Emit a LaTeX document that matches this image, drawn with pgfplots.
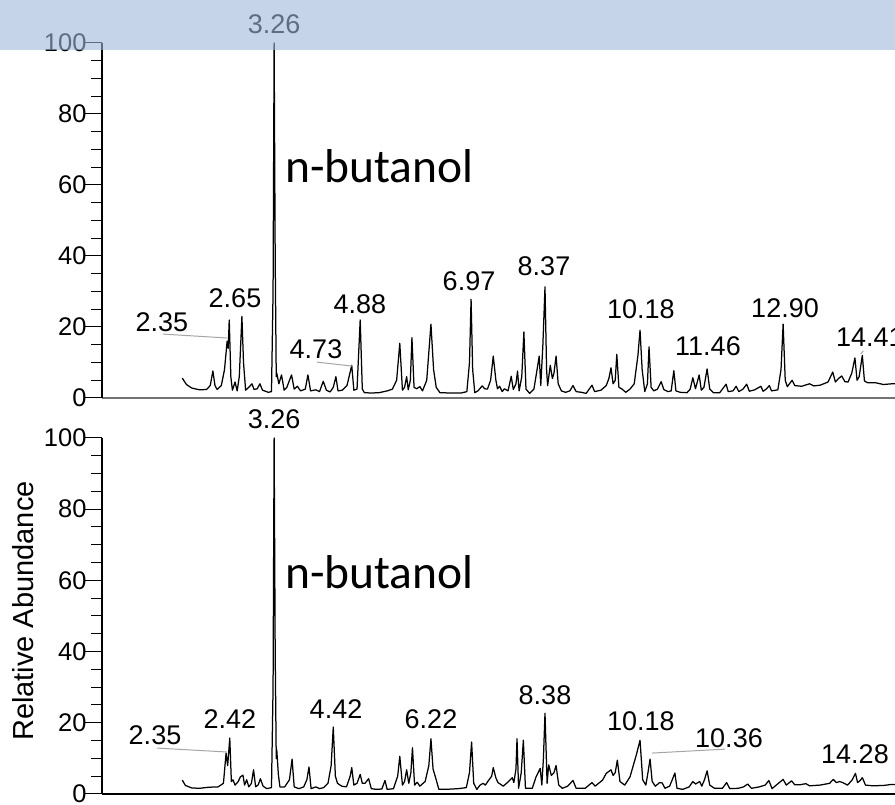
\documentclass[border=0pt]{standalone}
\usepackage{pgfplots}
\pgfplotsset{compat=1.18}
\usepackage{fontspec}
\setmainfont{Liberation Sans}
\newfontfamily\calibri{Carlito}

\definecolor{band}{RGB}{158,183,217}
\definecolor{leader}{RGB}{165,165,165}

\newcommand{\lbl}{\fontsize{27bp}{30bp}\selectfont}

\pgfplotsset{
  chrom/.style={
    x=52.8bp, y=3.55bp,
    xmin=0, xmax=15.2, ymin=0, ymax=100,
    axis x line=bottom, axis y line=left,
    axis line style={-, line width=1.1bp},
    xtick=\empty,
    ytick={0,20,...,100}, minor ytick={5,10,...,95},
    tick align=outside,
    major tick length=17bp, minor tick length=11bp,
    every tick/.style={black, line width=1bp},
    yticklabel style={font=\fontsize{25.5bp}{28bp}\selectfont, xshift=5bp,
      /pgf/number format/assume math mode=true},
    clip=false,
    anchor=south west,
  },
  trace/.style={black, line width=1.25bp, line join=round, mark=none},
}

\begin{document}
\begin{tikzpicture}
\useasboundingbox (0,0) rectangle (895bp,805bp);

% upper chromatogram
\begin{axis}[chrom, at={(102bp,407bp)}, x axis line style={black!55}]
\addplot[trace] coordinates {
(1.52,5.6) (1.60,3.8) (1.70,2.8) (1.85,2.3) (1.98,2.4) (2.05,3.5) (2.10,7.6)
(2.14,3.5) (2.18,2.4) (2.26,3.5) (2.32,8) (2.37,16) (2.39,14) (2.41,22)
(2.44,6) (2.47,2.2) (2.52,4.5) (2.56,2.0) (2.60,6) (2.65,23) (2.68,10)
(2.72,2.2) (2.78,3.0) (2.84,4.0) (2.88,2.4) (2.94,2.6) (2.99,4.0) (3.04,2.2)
(3.15,1.6) (3.21,1.8) (3.24,30) (3.26,100) (3.28,40) (3.30,6) (3.31,7)
(3.35,4) (3.40,6.5) (3.45,2.2) (3.50,3) (3.59,6.5) (3.64,2.5) (3.70,3.3)
(3.76,2.0) (3.85,2.5) (3.90,6.5) (3.95,2.0) (4.05,2.3) (4.12,1.8) (4.19,4.7)
(4.25,2.2) (4.32,1.7) (4.38,3.0) (4.43,6.0) (4.47,2.0) (4.55,2.2) (4.64,3.5)
(4.73,9.2) (4.77,2.2) (4.83,2.5) (4.89,22) (4.93,2.5) (4.97,1.5) (5.10,1.4)
(5.25,1.5) (5.40,2.0) (5.50,2.5) (5.58,5) (5.64,15.4) (5.69,2.2) (5.73,3)
(5.77,6) (5.80,2.3) (5.84,5) (5.87,17) (5.91,3) (5.96,2.6) (6.02,3.2)
(6.07,2.0) (6.15,5) (6.23,20.8) (6.28,8) (6.33,3) (6.40,1.5) (6.60,1.4)
(6.80,1.4) (6.91,1.8) (6.96,10) (6.99,27.8) (7.02,8) (7.06,1.5) (7.12,2.0)
(7.20,3.4) (7.25,2.6) (7.30,2.5) (7.36,5) (7.41,11.8) (7.46,5) (7.49,2.6)
(7.53,3.3) (7.58,1.8) (7.62,2.6) (7.69,2.0) (7.75,6.1) (7.79,2.4) (7.84,4)
(7.87,7.6) (7.90,2.0) (7.95,6) (7.99,18.6) (8.03,2.5) (8.10,1.3) (8.18,2.5)
(8.24,8) (8.28,11.8) (8.31,3.5) (8.35,15) (8.39,31.3) (8.42,8) (8.44,3.5)
(8.49,9.2) (8.53,5.5) (8.56,7) (8.60,11.8) (8.64,4) (8.70,2.0) (8.78,1.6)
(8.86,2.0) (8.92,3.5) (8.98,1.8) (9.08,1.6) (9.17,1.3) (9.28,3.6) (9.33,1.8)
(9.45,2.2) (9.55,3.5) (9.60,5.5) (9.64,8.5) (9.68,4) (9.72,5) (9.75,12.3)
(9.79,3) (9.85,2.5) (9.92,1.6) (10.00,2.5) (10.08,4.0) (10.15,12) (10.19,19.1)
(10.23,8) (10.28,1.8) (10.33,4) (10.36,14.4) (10.40,3) (10.45,2.0) (10.52,2.5)
(10.59,4.6) (10.64,2.4) (10.72,1.8) (10.78,2.0) (10.83,7.7) (10.87,2.0)
(10.95,1.6) (11.08,1.5) (11.14,2.5) (11.19,5.7) (11.24,2.6) (11.31,6.5)
(11.35,2.2) (11.40,3) (11.46,8.2) (11.51,2.5) (11.58,1.5) (11.70,1.5)
(11.82,3.9) (11.86,1.8) (11.95,2.0) (12.01,3.3) (12.06,1.8) (12.14,2.5)
(12.21,3.9) (12.26,1.9) (12.36,2.3) (12.42,2.8) (12.48,3.3) (12.52,1.9)
(12.58,2.5) (12.64,3.5) (12.68,2.0) (12.80,2.3) (12.86,8) (12.90,20.8)
(12.94,5) (12.98,3.2) (13.07,5.0) (13.12,3.5) (13.25,3.3) (13.40,4.0)
(13.48,3.4) (13.60,3.6) (13.75,4.5) (13.84,7.3) (13.89,4.5) (13.95,5.5)
(14.01,6.2) (14.07,4.6) (14.13,4.5) (14.20,7) (14.26,11.3) (14.30,5.0)
(14.34,6) (14.40,12.0) (14.44,4.8) (14.50,4.3) (14.65,4.3) (14.80,3.8)
(14.96,4.0) (15.10,4.0)
};
\draw[leader, line width=1bp] (axis cs:1.155,18.0) -- (axis cs:2.367,16.9);
\draw[leader, line width=1bp] (axis cs:4.072,10.1) -- (axis cs:4.735,9.0);
\draw[leader, line width=1bp] (axis cs:14.37,12.4) -- (axis cs:14.42,13.3);
\node[font=\lbl, anchor=base] at (axis cs:3.258,102.8) {3.26};
\node[font=\lbl, anchor=base] at (axis cs:1.136,18.6) {2.35};
\node[font=\lbl, anchor=base] at (axis cs:2.519,25.4) {2.65};
\node[font=\lbl, anchor=base] at (axis cs:4.053,11.0) {4.73};
\node[font=\lbl, anchor=base] at (axis cs:4.886,23.9) {4.88};
\node[font=\lbl, anchor=base] at (axis cs:6.951,30.4) {6.97};
\node[font=\lbl, anchor=base] at (axis cs:8.371,34.4) {8.37};
\node[font=\lbl, anchor=base] at (axis cs:10.208,22.5) {10.18};
\node[font=\lbl, anchor=base] at (axis cs:11.477,12.1) {11.46};
\node[font=\lbl, anchor=base] at (axis cs:12.936,22.8) {12.90};
\node[font=\lbl, anchor=base] at (axis cs:14.545,14.4) {14.41};
\node[font=\calibri\fontsize{47.5bp}{50bp}\selectfont, anchor=base west, inner sep=0pt]
  at (axis cs:3.466,60.6) {n-butanol};
\end{axis}

% lower chromatogram
\begin{axis}[chrom, y=3.56bp, at={(102bp,11bp)}]
\addplot[trace] coordinates {
(1.52,3.9) (1.58,2.4) (1.70,1.7) (1.85,1.6) (2.02,1.9) (2.20,2.0) (2.30,3)
(2.35,11.5) (2.38,8) (2.42,15.7) (2.45,3.5) (2.48,4.0) (2.52,2.5) (2.58,3.5)
(2.62,4.8) (2.67,5.3) (2.70,2.5) (2.74,4) (2.78,2.0) (2.83,3) (2.87,6.8)
(2.91,2.0) (2.96,2.6) (3.00,4.3) (3.05,2.2) (3.12,1.5) (3.21,1.8) (3.24,30)
(3.26,100) (3.28,40) (3.30,10) (3.31,12.4) (3.34,5.5) (3.37,2.0) (3.46,2.0)
(3.55,4) (3.60,9.8) (3.64,2.0) (3.73,1.5) (3.82,2.0) (3.88,4) (3.92,7.6)
(3.96,1.5) (4.05,2.0) (4.12,1.5) (4.20,1.8) (4.28,3.0) (4.34,8) (4.38,18.8)
(4.42,5) (4.46,3.0) (4.54,2.2) (4.63,2.0) (4.70,5) (4.73,7.4) (4.77,2.5)
(4.83,3.0) (4.89,5.5) (4.93,3.0) (4.98,3.0) (5.05,4.3) (5.10,1.5) (5.20,1.3)
(5.30,1.4) (5.36,3.8) (5.40,1.3) (5.52,1.5) (5.60,5) (5.64,10.6) (5.69,2.5)
(5.73,3.5) (5.77,6.8) (5.81,3) (5.85,6) (5.88,13.0) (5.92,2.5) (5.97,3.3)
(6.02,2.2) (6.12,3.5) (6.19,8) (6.23,15.5) (6.27,7) (6.32,4.5) (6.38,1.3)
(6.50,1.3) (6.75,1.5) (6.90,1.8) (6.96,6) (7.00,14.6) (7.04,3) (7.10,1.3)
(7.16,2.5) (7.22,3.0) (7.26,2.5) (7.32,3.8) (7.38,5) (7.41,7.4) (7.46,4.5)
(7.50,3.2) (7.60,2.2) (7.70,3.5) (7.77,4.6) (7.80,3.2) (7.84,7) (7.86,15.5)
(7.89,1.6) (7.94,6) (7.98,15.1) (8.02,1.6) (8.15,1.6) (8.22,4.8) (8.30,7.2)
(8.33,2.5) (8.36,10) (8.39,22.7) (8.43,3.0) (8.46,8.2) (8.51,5.2) (8.56,6)
(8.60,8.0) (8.65,2.5) (8.72,1.6) (8.82,2.2) (8.92,3.8) (8.98,1.6) (9.15,1.6)
(9.28,3.2) (9.34,2.2) (9.48,3.9) (9.55,5.8) (9.64,6.8) (9.68,5.2) (9.72,6)
(9.76,9.5) (9.81,3.5) (9.90,2.5) (10.00,4.8) (10.12,11) (10.19,15.1)
(10.24,4) (10.30,2.5) (10.34,6) (10.38,9.8) (10.42,3.5) (10.48,2.2)
(10.56,3.2) (10.61,3.1) (10.66,1.6) (10.75,2.2) (10.80,4) (10.85,5.9)
(10.89,1.6) (11.00,1.3) (11.12,2.0) (11.19,3.5) (11.24,2.8) (11.32,3.5)
(11.36,2.2) (11.41,4) (11.46,6.5) (11.51,2.5) (11.60,1.6) (11.75,1.6)
(11.83,3.2) (11.89,1.5) (12.05,1.6) (12.15,2.0) (12.23,2.8) (12.30,1.6)
(12.45,2.0) (12.56,2.5) (12.63,3.8) (12.69,1.5) (12.77,2.5) (12.90,4.1)
(12.96,2.5) (13.06,3.7) (13.12,2.6) (13.22,2.6) (13.33,2.9) (13.40,2.3)
(13.60,2.5) (13.78,3) (13.85,4.1) (13.91,3.2) (13.97,3.5) (14.03,3.2)
(14.12,2.5) (14.21,4) (14.27,5.8) (14.31,3.2) (14.36,3.8) (14.40,4.6)
(14.46,2.5) (14.60,2.3) (14.80,2.4) (14.96,2.7) (15.10,2.7)
};
\draw[leader, line width=1bp] (axis cs:1.042,12.9) -- (axis cs:2.367,11.8);
\draw[leader, line width=1bp] (axis cs:10.417,11.5) -- (axis cs:11.8,12.6);
\node[font=\lbl, anchor=base] at (axis cs:3.258,102.8) {3.26};
\node[font=\lbl, anchor=base] at (axis cs:1.004,13.8) {2.35};
\node[font=\lbl, anchor=base] at (axis cs:2.424,18.3) {2.42};
\node[font=\lbl, anchor=base] at (axis cs:4.432,21.3) {4.42};
\node[font=\lbl, anchor=base] at (axis cs:6.231,18.3) {6.22};
\node[font=\lbl, anchor=base] at (axis cs:8.390,25.0) {8.38};
\node[font=\lbl, anchor=base] at (axis cs:10.208,17.7) {10.18};
\node[font=\lbl, anchor=base] at (axis cs:11.875,13.2) {10.36};
\node[font=\lbl, anchor=base] at (axis cs:14.261,8.7) {14.28};
\node[font=\calibri\fontsize{47.5bp}{50bp}\selectfont, anchor=base west, inner sep=0pt]
  at (axis cs:3.466,57.6) {n-butanol};
\end{axis}

\node[rotate=90, font=\fontsize{29bp}{32bp}\selectfont] at (23bp,194bp) {Relative Abundance};
\fill[band, opacity=0.6] (0,755bp) rectangle (895bp,805bp);
\end{tikzpicture}
\end{document}
